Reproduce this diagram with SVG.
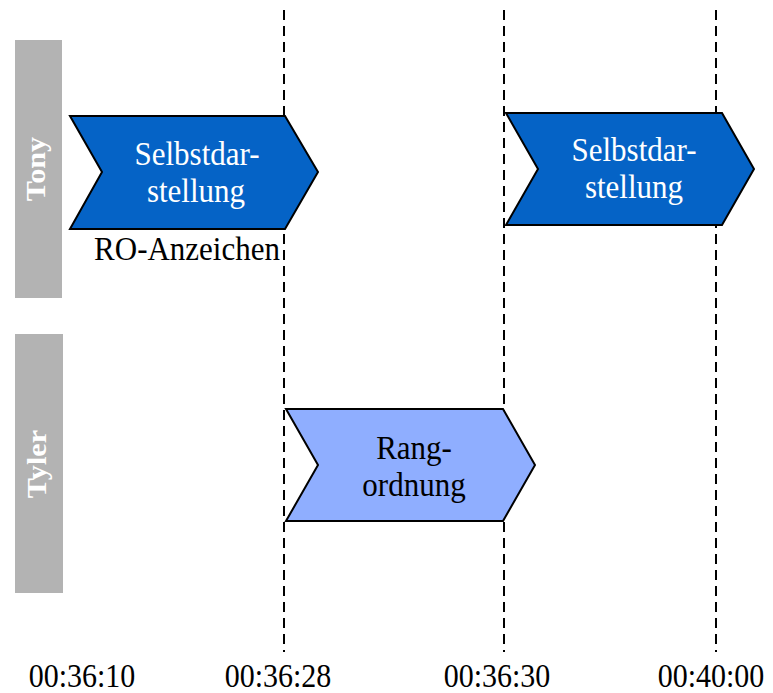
<svg xmlns="http://www.w3.org/2000/svg" width="773" height="693" viewBox="0 0 773 693">
  <style>
    .lane { fill: #b3b3b3; }
    .serif { font-family: 'Liberation Serif', 'Tinos', 'Times New Roman', 'DejaVu Serif', serif; }
    .lane-label { font-weight: bold; font-size: 27px; fill: #ffffff; text-anchor: middle; }
    .chev-dark { fill: #0563c6; stroke: #000000; stroke-width: 2; stroke-linejoin: miter; }
    .chev-light { fill: #8faeff; stroke: #000000; stroke-width: 2; stroke-linejoin: miter; }
    .label { font-size: 31px; text-anchor: middle; }
    .white { fill: #ffffff; }
    .black { fill: #000000; }
    .marker-line { stroke: #000000; stroke-width: 2; stroke-dasharray: 10 6; fill: none; }
    .time { font-size: 30px; fill: #000000; text-anchor: middle; }
  </style>

  <!-- swimlane headers -->
  <g id="lane-tony">
    <rect class="lane" x="15" y="40" width="47" height="258"/>
    <text class="serif lane-label" transform="translate(45 169) rotate(-90) scale(1.12 1)">Tony</text>
  </g>
  <g id="lane-tyler">
    <rect class="lane" x="15" y="334" width="48" height="259"/>
    <text class="serif lane-label" transform="translate(46 464) rotate(-90) scale(1.12 1)">Tyler</text>
  </g>

  <!-- time markers -->
  <g id="connectors">
    <line class="marker-line" x1="284" y1="10" x2="284" y2="652"/>
    <line class="marker-line" x1="504" y1="10" x2="504" y2="652"/>
    <line class="marker-line" x1="716" y1="10" x2="716" y2="652"/>
  </g>

  <!-- phases -->
  <g id="tony-selbstdarstellung-1">
    <polygon class="chev-dark" points="70,116 285,116 318,172 285,229 70,229 102,172"/>
    <text class="serif label white" transform="translate(197 165) scale(1 1.08)">Selbstdar-</text>
    <text class="serif label white" transform="translate(196 202) scale(1 1.08)">stellung</text>
  </g>
  <g id="ro-anzeichen">
    <text class="serif label black" transform="translate(187 260) scale(1 1.08)">RO-Anzeichen</text>
  </g>
  <g id="tony-selbstdarstellung-2">
    <polygon class="chev-dark" points="506,113 722,113 754,169 722,225 506,225 538,169"/>
    <text class="serif label white" transform="translate(634 161) scale(1 1.08)">Selbstdar-</text>
    <text class="serif label white" transform="translate(634 198) scale(1 1.08)">stellung</text>
  </g>
  <g id="tyler-rangordnung">
    <polygon class="chev-light" points="286,409 503,409 535,465 503,521 286,521 318,465"/>
    <text class="serif label black" transform="translate(414 459) scale(1 1.08)">Rang-</text>
    <text class="serif label black" transform="translate(414 496) scale(1 1.08)">ordnung</text>
  </g>

  <!-- time axis -->
  <g id="time-axis">
    <text class="serif time" transform="translate(82 687) scale(1 1.1)">00:36:10</text>
    <text class="serif time" transform="translate(278 687) scale(1 1.1)">00:36:28</text>
    <text class="serif time" transform="translate(497 687) scale(1 1.1)">00:36:30</text>
    <text class="serif time" transform="translate(711 687) scale(1 1.1)">00:40:00</text>
  </g>
</svg>
